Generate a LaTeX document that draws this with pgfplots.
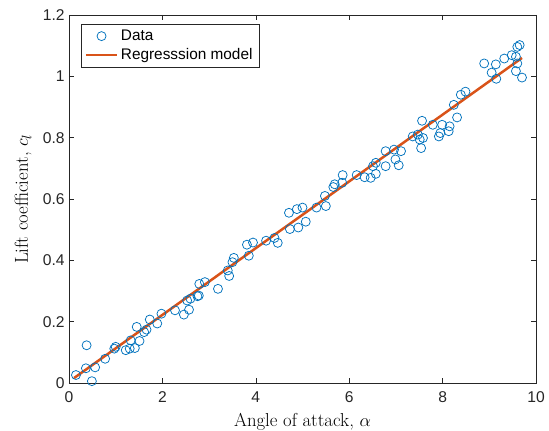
\documentclass[border=0pt]{standalone}
\usepackage{fontspec}
\setsansfont{Liberation Sans}
\usepackage{pgfplots}
\pgfplotsset{compat=1.18}
\definecolor{mblue}{rgb}{0,0.447,0.741}
\definecolor{morange}{rgb}{0.85,0.325,0.098}
\definecolor{maxis}{rgb}{0.15,0.15,0.15}
\begin{document}
\begin{tikzpicture}
\begin{axis}[
  scale only axis, width=373.6pt, height=294.4pt,
  xmin=0, xmax=10, ymin=0, ymax=1.2,
  xtick={0,2,...,10}, ytick={0,0.2,...,1.2},
  tick align=inside, major tick length=4pt,
  axis line style={maxis}, every tick/.style={maxis},
  tick label style={font=\sffamily\fontsize{12.5}{14}\selectfont, text=maxis},
  xticklabel style={yshift=-3.5pt},
  /pgf/number format/assume math mode=true,
  yticklabel style={/pgf/number format/fixed},
  xlabel={Angle of attack, $\alpha$},
  ylabel={Lift coefficient, $c_l$},
  label style={font=\fontsize{15}{17}\selectfont},
  xlabel style={at={(axis description cs:0.5,-0.118)}, anchor=base},
  ylabel style={at={(axis description cs:-0.0878,0.5)}, rotate=0, anchor=base},
  legend style={at={(0.025,0.9755)}, anchor=north west, draw=maxis,
    font=\sffamily\fontsize{12.3}{14}\selectfont, inner xsep=3pt, inner ysep=2.5pt,
    row sep=1pt},
  legend cell align=left,
  legend image code/.code={\draw[mark repeat=2,mark phase=2,#1]
    plot coordinates {(0pt,0pt)(12.5pt,0pt)(25pt,0pt)};},
]
\addplot[only marks, mark=o, mark size=3.6pt, mblue, line width=0.6pt] coordinates {
(0.149,0.026)(0.362,0.048)(0.49,0.006)(0.56,0.051)(0.377,0.123)(0.774,0.079)
(1.00,0.118)(0.97,0.112)(1.215,0.107)(1.30,0.112)(1.41,0.114)(1.32,0.139)
(1.45,0.183)(1.51,0.137)(1.61,0.166)(1.66,0.174)(1.73,0.207)(1.89,0.194)
(1.98,0.226)(2.27,0.237)(2.46,0.223)(2.57,0.239)(2.53,0.269)(2.60,0.275)
(2.78,0.285)(2.75,0.283)(2.79,0.323)(2.91,0.329)(3.19,0.307)(3.40,0.367)(3.43,0.349)
(3.53,0.408)(3.50,0.394)(3.81,0.451)(3.94,0.458)(3.85,0.415)(4.22,0.464)
(4.40,0.473)(4.47,0.457)(4.71,0.555)(4.88,0.567)(5.00,0.572)(4.73,0.502)
(4.91,0.507)(5.07,0.526)(5.30,0.572)(5.48,0.610)(5.50,0.577)(5.66,0.639)
(5.69,0.648)(5.86,0.678)(5.85,0.653)(6.16,0.678)(6.33,0.671)(6.46,0.669)
(6.51,0.707)(6.57,0.718)(6.57,0.682)(6.78,0.707)(6.78,0.756)(6.96,0.761)
(7.11,0.756)(6.99,0.729)(7.06,0.710)(7.36,0.804)(7.47,0.810)(7.58,0.799)
(7.56,0.855)(7.54,0.766)(7.51,0.794)(7.79,0.842)(7.95,0.815)(7.92,0.804)(7.99,0.842)
(8.15,0.837)(8.13,0.821)(8.24,0.907)(8.31,0.866)(8.39,0.940)(8.49,0.950)
(8.89,1.042)(9.05,1.012)(9.14,1.039)(9.15,0.992)(9.32,1.058)(9.48,1.069)
(9.57,1.064)(9.60,1.096)(9.65,1.102)(9.57,1.017)(9.60,1.042)(9.70,0.996)
};
\addlegendentry{Data}
\addplot[morange, line width=2pt] coordinates {(0.107,0.016)(9.70,1.060)};
\addlegendentry{Regresssion model}
\end{axis}
\pgfresetboundingbox
\path (current axis.south west) ++(-55.2pt,-38.4pt) rectangle ([shift={(10.4pt,12pt)}]current axis.north east);
\end{tikzpicture}
\end{document}
